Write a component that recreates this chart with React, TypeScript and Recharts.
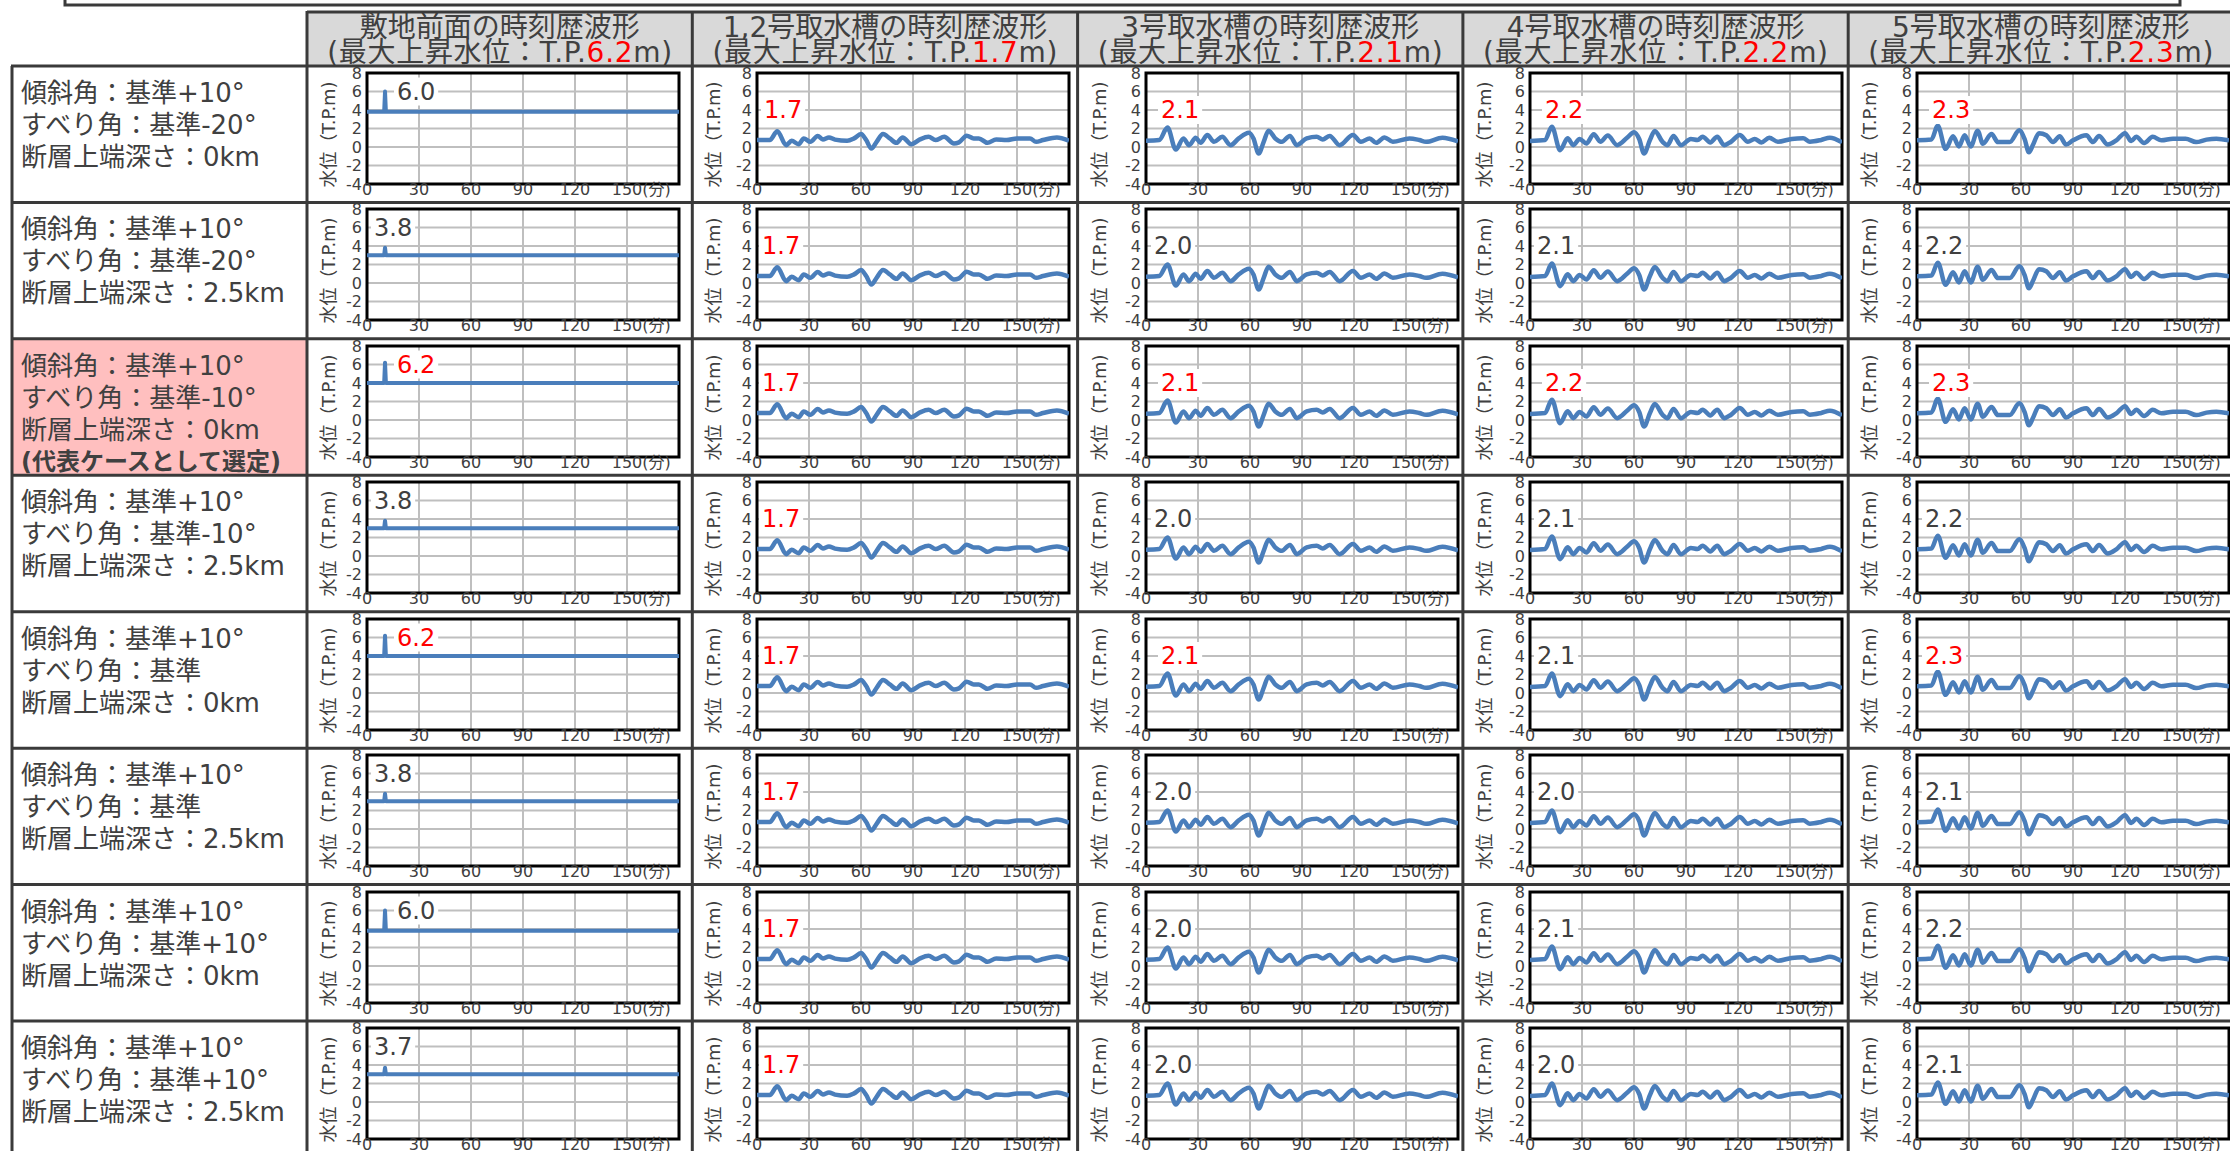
import React from 'react';
import { LineChart, Line, XAxis, YAxis, CartesianGrid, ReferenceArea, ReferenceDot } from 'recharts';

// ---------- data ----------
const COL_TITLES = [
  '敷地前面の時刻歴波形',
  '1,2号取水槽の時刻歴波形',
  '3号取水槽の時刻歴波形',
  '4号取水槽の時刻歴波形',
  '5号取水槽の時刻歴波形',
];
const COL_MAX = ['6.2', '1.7', '2.1', '2.2', '2.3'];

const ROW_LABELS = [
  ['傾斜角：基準+10°', 'すべり角：基準-20°', '断層上端深さ：0km'],
  ['傾斜角：基準+10°', 'すべり角：基準-20°', '断層上端深さ：2.5km'],
  ['傾斜角：基準+10°', 'すべり角：基準-10°', '断層上端深さ：0km', '(代表ケースとして選定)'],
  ['傾斜角：基準+10°', 'すべり角：基準-10°', '断層上端深さ：2.5km'],
  ['傾斜角：基準+10°', 'すべり角：基準', '断層上端深さ：0km'],
  ['傾斜角：基準+10°', 'すべり角：基準', '断層上端深さ：2.5km'],
  ['傾斜角：基準+10°', 'すべり角：基準+10°', '断層上端深さ：0km'],
  ['傾斜角：基準+10°', 'すべり角：基準+10°', '断層上端深さ：2.5km'],
];
const HIGHLIGHT_ROW = 2;

const PEAK_SITE = ['6.0', '3.8', '6.2', '3.8', '6.2', '3.8', '6.0', '3.7'];
const PEAK_U12 = ['1.7', '1.7', '1.7', '1.7', '1.7', '1.7', '1.7', '1.7'];
const PEAK_U3 = ['2.1', '2.0', '2.1', '2.0', '2.1', '2.0', '2.0', '2.0'];
const PEAK_U4 = ['2.2', '2.1', '2.2', '2.1', '2.1', '2.0', '2.1', '2.0'];
const PEAK_U5 = ['2.3', '2.2', '2.3', '2.2', '2.3', '2.1', '2.2', '2.1'];

// 敷地前面: flat level with a short spike
const SITE_BASE = [3.8, 3.0, 4.0, 3.0, 4.0, 3.0, 3.8, 3.0];
const SITE_TIME = [0, 9.9, 10.4, 10.9, 180];

const TIME_U12 = [0, 7.4, 11.7, 16.8, 20, 24, 27, 30.8, 35, 38, 41.5, 45, 52, 56, 60, 63, 66, 69, 72.7, 76.6, 80.5, 84, 89, 94, 99, 103, 108, 113.6, 116.5, 121, 125, 128, 133, 138, 144, 150, 157.5, 161, 165, 173, 180];
const LEVEL_U12 = [0.75, 0.75, 1.7, 0.2, 0.67, 0.3, 0.93, 0.56, 1.2, 0.82, 1.04, 0.8, 0.67, 0.93, 1.4, 0.75, -0.17, 0.56, 1.4, 0.93, 0.45, 1.04, 0.3, 0.82, 1.1, 0.75, 1.1, 0.38, 0.5, 1.22, 0.93, 0.93, 0.45, 0.82, 0.75, 0.93, 0.93, 0.56, 0.75, 1.04, 0.67];

const TIME_U3 = [0, 7.6, 12.4, 17.2, 21.6, 24.9, 28.7, 31.5, 35.4, 39.2, 44, 48.8, 53.5, 59.3, 62, 65, 67.9, 70.7, 74.6, 78.4, 83, 87, 92.7, 98.5, 102, 106, 111.7, 119.4, 124, 129, 132.8, 137.6, 142.4, 152, 157.7, 161.6, 171, 180];
const LEVEL_U3 = [0.67, 0.75, 2.0, -0.28, 0.93, 0.2, 1.0, 0.45, 1.3, 0.56, 1.1, 0.2, 0.93, 1.55, 0.93, -0.7, 0.56, 1.77, 0.93, 0.56, 1.2, 0.2, 0.93, 1.1, 0.82, 1.2, 0.2, 1.3, 0.56, 0.93, 0.45, 1.04, 0.56, 0.93, 0.75, 0.56, 1.0, 0.6];

const TIME_U4 = [0, 8.7, 12.6, 17.4, 21.7, 25, 28.6, 32.5, 36.8, 40.6, 44.9, 50.3, 56, 60, 63, 65.8, 69.2, 72, 76.4, 79.3, 82.8, 87, 92.8, 96.7, 99.6, 104, 108, 112, 116, 121, 125.7, 129.6, 133.5, 138, 143, 151, 157.6, 161.5, 168, 173, 180];
const LEVEL_U4 = [0.65, 0.76, 2.1, -0.34, 0.94, 0.2, 0.87, 0.39, 1.38, 0.57, 1.23, 0.2, 1.0, 1.6, 0.87, -0.7, 0.76, 1.74, 0.57, 0.2, 1.2, 0.2, 0.87, 0.76, 1.12, 0.5, 1.12, 0.2, 0.57, 1.3, 0.57, 0.87, 0.5, 1.0, 0.57, 0.87, 0.94, 0.57, 0.76, 1.0, 0.5];

const TIME_U5 = [0, 8.3, 12, 16.5, 20.8, 24.2, 27.5, 31, 35, 38, 43, 46.7, 53.5, 59, 62, 64.6, 67, 70.4, 74.6, 78.5, 82.3, 86, 90, 97.7, 101.5, 105, 110, 115, 120, 123.6, 126.5, 131, 136, 141, 147.7, 155, 161, 167, 172.7, 180];
const LEVEL_U5 = [0.72, 0.8, 2.2, -0.2, 1.16, 0.06, 1.27, 0.06, 1.75, 0.35, 1.4, 0.53, 0.53, 1.8, 0.9, -0.57, 0.27, 1.5, 1.27, 0.53, 1.16, 0.27, 0.72, 1.27, 0.53, 1.2, 0.27, 0.72, 1.5, 0.64, 1.1, 0.43, 1.1, 0.72, 0.9, 0.9, 0.53, 0.8, 0.9, 0.72];

const X_TICKS = [0, 30, 60, 90, 120, 150, 180];
const Y_TICKS = [-4, -2, 0, 2, 4, 6, 8];
const Y_TITLE = '水位（T.P.m)';
const X_UNIT = '(分)';

// ---------- layout / style ----------
const FONT = "'DejaVu Sans', 'Noto Sans CJK JP', sans-serif";
const TEXT = '#404040';
const RED = '#ff0000';
const BLUE = '#4a7ebb';
const LINE_C = '#3a3a3a';
const ROW_TOP0 = 66;
const ROW_H = 136.43;
const COL_LEFT0 = 307;
const COL_W = 385.3;
const PLOT_OFF = [60, 65, 68, 67, 69];
const PLOT_W = 312;
const CHART_SHIFT = 6; // chart svg starts a bit above the row line so top tick is not clipped
const PLOT_TOP = 7 + CHART_SHIFT;
const PLOT_H = 111;
const CHART_H = 136 + CHART_SHIFT;
const TICK_FS = 16;
const LABEL_DX = [
  [30, 7, 30, 7, 30, 7, 30, 7],
  [7, 5, 5, 5, 5, 5, 5, 5],
  [15, 8, 15, 8, 15, 8, 8, 8],
  [15, 7, 15, 7, 7, 7, 7, 7],
  [15, 8, 15, 8, 8, 8, 8, 8],
];

const WAVES = [
  null,
  { t: TIME_U12, v: LEVEL_U12, peaks: PEAK_U12 },
  { t: TIME_U3, v: LEVEL_U3, peaks: PEAK_U3 },
  { t: TIME_U4, v: LEVEL_U4, peaks: PEAK_U4 },
  { t: TIME_U5, v: LEVEL_U5, peaks: PEAK_U5 },
];

function seriesFor(c: number, r: number) {
  if (c === 0) {
    const base = SITE_BASE[r];
    const peak = parseFloat(PEAK_SITE[r]);
    const vals = [base, base, peak, base, base];
    return SITE_TIME.map((t, i) => ({ t, v: vals[i] }));
  }
  const w = WAVES[c]!;
  const peak = parseFloat(w.peaks[r]);
  return w.t.map((t, i) => ({ t, v: i === 2 ? peak : w.v[i] }));
}

function labelText(c: number, r: number) {
  return c === 0 ? PEAK_SITE[r] : WAVES[c]!.peaks[r];
}

const XTick = (p: any) => {
  const { x, y, payload } = p;
  const v = payload.value;
  if (v === 180) return null;
  return (
    <g>
      <text x={x} y={y} dy="0.71em" textAnchor="middle" fontSize={TICK_FS} fill={TEXT} fontFamily={FONT}>{v}</text>
      {v === 150 && (
        <text x={x + TICK_FS * 0.954} y={y} dy="0.71em" textAnchor="start" fontSize={TICK_FS} fill={TEXT} fontFamily={FONT}>{X_UNIT}</text>
      )}
    </g>
  );
};

function Cell({ c, r }: { c: number; r: number }) {
  const data = seriesFor(c, r);
  const off = PLOT_OFF[c];
  const txt = labelText(c, r);
  const isMax = txt === COL_MAX[c];
  const labelY = c === 0 ? 6 : 4;
  const dx = LABEL_DX[c][r];
  const fs = 24;
  const tw = fs * (0.636 * (txt.length - 1) + 0.318);
  return (
    <div style={{ position: 'absolute', left: COL_LEFT0 + c * COL_W, top: ROW_TOP0 + r * ROW_H - CHART_SHIFT }}>
      <LineChart
        width={385}
        height={CHART_H}
        data={data}
        margin={{ top: PLOT_TOP, right: 385 - off - PLOT_W, bottom: 0, left: 0 }}
      >
        <CartesianGrid stroke="#bfbfbf" strokeWidth={2} />
        <XAxis
          type="number"
          dataKey="t"
          domain={[0, 180]}
          ticks={X_TICKS}
          interval={0}
          tickLine={false}
          axisLine={false}
          tickSize={0}
          tickMargin={0}
          height={CHART_H - PLOT_TOP - PLOT_H}
          tick={<XTick />}
          allowDataOverflow
        />
        <YAxis
          type="number"
          domain={[-4, 8]}
          ticks={Y_TICKS}
          interval={0}
          tickLine={false}
          axisLine={false}
          tickSize={0}
          tickMargin={5}
          width={off}
          tick={{ fontSize: TICK_FS, fill: TEXT, fontFamily: FONT }}
          label={{
            content: (p: any) => {
              const vb = p.viewBox || { x: 0, y: PLOT_TOP, width: off, height: PLOT_H };
              const cx = 21;
              const cy = vb.y + vb.height / 2 + 6;
              return (
                <text
                  x={cx}
                  y={cy}
                  transform={`rotate(-90, ${cx}, ${cy})`}
                  textAnchor="middle"
                  dominantBaseline="central"
                  fontSize={18}
                  textLength={106}
                  lengthAdjust="spacing"
                  fill={TEXT}
                  fontFamily={FONT}
                >
                  {Y_TITLE}
                </text>
              );
            },
          }}
        />
        <ReferenceDot
          x={0}
          y={labelY}
          r={0}
          ifOverflow="visible"
          shape={(p: any) => (
            <g>
              <rect x={p.cx + dx - 3} y={p.cy - 14} width={tw + 6} height={28} fill="#ffffff" />
              <text
                x={p.cx + dx}
                y={p.cy}
                dominantBaseline="central"
                fontSize={fs}
                fill={isMax ? RED : TEXT}
                fontFamily={FONT}
              >
                {txt}
              </text>
            </g>
          )}
        />
        <Line
          type={c === 0 ? 'linear' : 'monotone'}
          dataKey="v"
          stroke={BLUE}
          strokeWidth={c === 0 ? 4 : 4.5}
          strokeLinejoin="round"
          dot={false}
          isAnimationActive={false}
        />
        <ReferenceArea x1={0} x2={180} y1={-4} y2={8} fill="none" stroke="#000" strokeWidth={3} ifOverflow="visible" />
      </LineChart>
    </div>
  );
}

export default function App() {
  const rows = ROW_LABELS.length;
  const cols = COL_TITLES.length;
  const colX = (k: number) => COL_LEFT0 + k * COL_W;
  const rowY = (k: number) => ROW_TOP0 + k * ROW_H;
  return (
    <div style={{ position: 'absolute', left: 0, top: 0, width: 2230, height: 1151, overflow: 'hidden', background: '#fff' }}>
      {Array.from({ length: rows }).map((_, r) =>
        Array.from({ length: cols }).map((__, c) => <Cell key={`${r}-${c}`} c={c} r={r} />)
      )}
      <svg width={2230} height={1151} style={{ position: 'absolute', left: 0, top: 0, pointerEvents: 'none' }}>
        {/* header backgrounds */}
        <rect x={COL_LEFT0} y={12} width={2230 - COL_LEFT0} height={ROW_TOP0 - 12} fill="#d9d9d9" />
        {/* highlighted row label */}
        <rect x={12} y={rowY(HIGHLIGHT_ROW)} width={COL_LEFT0 - 12} height={ROW_H} fill="#ffbfbf" />
        {/* top box */}
        <rect x={65} y={-10} width={2115} height={15} fill="none" stroke={LINE_C} strokeWidth={3} />
        {/* header titles */}
        {COL_TITLES.map((t, c) => (
          <g key={c} fontFamily={FONT} fontSize={28} fill={TEXT} textAnchor="middle">
            <text x={colX(c) + COL_W / 2} y={27} dominantBaseline="central">{t}</text>
            <text
              x={colX(c) + COL_W / 2}
              y={52}
              dominantBaseline="central"
              textLength={345}
              lengthAdjust="spacing"
            >
              (最大上昇水位：T.P.<tspan fill={RED}>{COL_MAX[c]}</tspan>m)
            </text>
          </g>
        ))}
        {/* row labels */}
        {ROW_LABELS.map((lines, r) => (
          <g key={r} fontFamily={FONT} fill={TEXT}>
            {lines.map((l, i) => {
              const bold = l.startsWith('(');
              return (
                <text
                  key={i}
                  x={21}
                  y={rowY(r) + 27 + i * 32}
                  dominantBaseline="central"
                  fontSize={bold ? 24 : 26}
                  fontWeight={bold ? 700 : 400}
                >
                  {l}
                </text>
              );
            })}
          </g>
        ))}
        {/* table lines */}
        <line x1={COL_LEFT0} y1={12} x2={2230} y2={12} stroke={LINE_C} strokeWidth={3} />
        {Array.from({ length: rows + 1 }).map((_, k) => (
          <line key={`h${k}`} x1={11} y1={rowY(k)} x2={2230} y2={rowY(k)} stroke={LINE_C} strokeWidth={3} />
        ))}
        <line x1={12} y1={ROW_TOP0} x2={12} y2={1151} stroke={LINE_C} strokeWidth={3} />
        {Array.from({ length: cols }).map((_, k) => (
          <line key={`v${k}`} x1={colX(k)} y1={11} x2={colX(k)} y2={1151} stroke={LINE_C} strokeWidth={3} />
        ))}
      </svg>
    </div>
  );
}
